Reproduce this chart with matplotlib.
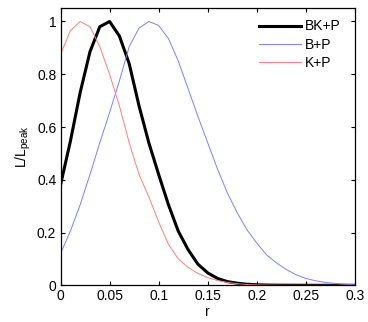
import numpy as np
import matplotlib
matplotlib.use("Agg")
import matplotlib.pyplot as plt
from matplotlib.ticker import FuncFormatter

plt.rcParams['font.family'] = ['Liberation Sans', 'DejaVu Sans']

r = [0.00, 0.01, 0.02, 0.03, 0.04, 0.05, 0.06, 0.07, 0.08, 0.09,
     0.10, 0.11, 0.12, 0.13, 0.14, 0.15, 0.16, 0.17, 0.18, 0.19,
     0.20, 0.21, 0.22, 0.23, 0.24, 0.25, 0.26, 0.27, 0.28, 0.29, 0.30]

bk_p = [0.38, 0.545, 0.73, 0.885, 0.98, 1.0, 0.945, 0.84, 0.68, 0.54,
        0.42, 0.305, 0.205, 0.135, 0.08, 0.047, 0.026, 0.014, 0.008, 0.004,
        0.002, 0.001, 0.0005, 0.0003, 0.0002, 0.0001, 0.0, 0.0, 0.0, 0.0, 0.0]

b_p = [0.12, 0.205, 0.305, 0.42, 0.54, 0.655, 0.775, 0.905, 0.975, 1.0,
       0.985, 0.935, 0.85, 0.745, 0.64, 0.54, 0.44, 0.35, 0.275, 0.21,
       0.16, 0.115, 0.085, 0.06, 0.04, 0.026, 0.017, 0.011, 0.007, 0.004, 0.002]

k_p = [0.875, 0.965, 1.0, 0.98, 0.905, 0.80, 0.68, 0.54, 0.42, 0.335,
       0.24, 0.155, 0.10, 0.068, 0.045, 0.029, 0.018, 0.011, 0.006, 0.003,
       0.0015, 0.0008, 0.0004, 0.0002, 0.0001, 0.0, 0.0, 0.0, 0.0, 0.0, 0.0]

labels = ["BK+P", "B+P", "K+P"]
xticks = [0, 0.05, 0.1, 0.15, 0.2, 0.25, 0.3]
yticks = [0, 0.2, 0.4, 0.6, 0.8, 1.0]

fig = plt.figure(figsize=(3.68, 3.22), dpi=100)
ax = fig.add_axes([60.5/368, 1-285.3/322, (355-60.5)/368, (285.3-8.3)/322])

ax.plot(r, bk_p, color='black', lw=2.2, label=labels[0])
ax.plot(r, b_p, color='#7f7fff', lw=0.7, label=labels[1])
ax.plot(r, k_p, color='#ff7f7f', lw=0.7, label=labels[2])

ax.set_xlim(0, 0.3)
ax.set_ylim(0, 1.05)
ax.set_xticks(xticks)
ax.set_yticks(yticks)
fmt = FuncFormatter(lambda v, p: ('%g' % round(v, 4)))
ax.xaxis.set_major_formatter(fmt)
ax.yaxis.set_major_formatter(fmt)
ax.tick_params(direction='in', length=3, width=0.8, top=True, right=True,
               labelsize=10, pad=3)
for s in ax.spines.values():
    s.set_linewidth(0.9)

ax.set_xlabel('r', fontsize=10, labelpad=1)
ax.set_ylabel(r'L/L$_{\mathregular{peak}}$', fontsize=10, labelpad=3)

leg = ax.legend(loc='upper right', frameon=False, fontsize=10,
                handlelength=3.0, handletextpad=0.3, labelspacing=0.32,
                borderaxespad=0.2, bbox_to_anchor=(0.98, 0.99))

fig.savefig('out.png', dpi=100)
